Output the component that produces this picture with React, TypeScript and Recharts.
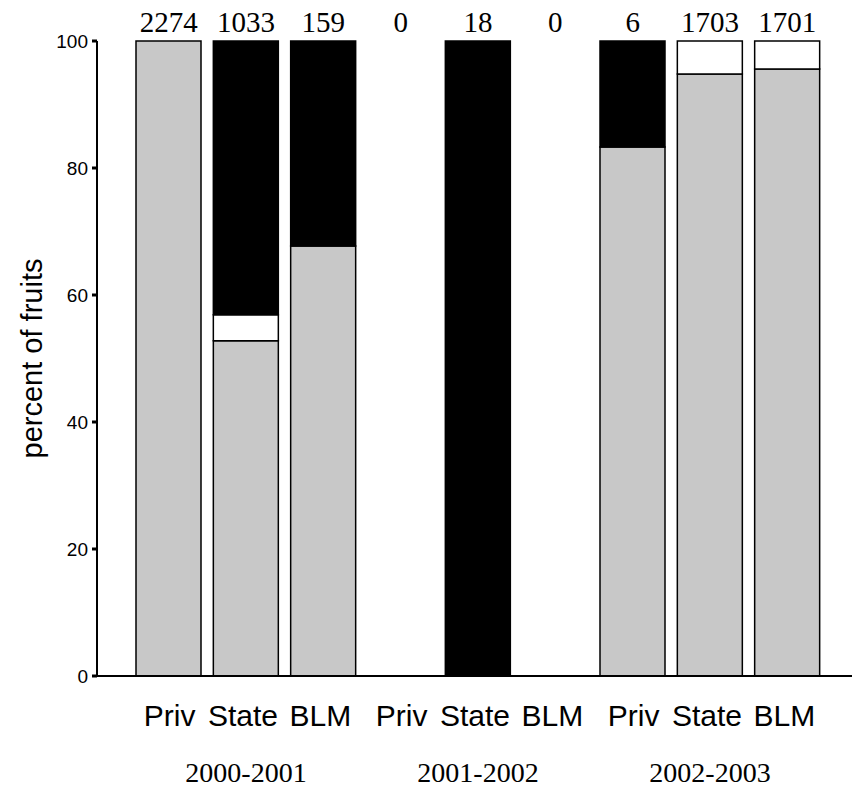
import * as React from "react";
import { BarChart, Bar, XAxis, YAxis } from "recharts";

// categories: three ownership types across three seasons
const sites = ["Priv", "State", "BLM", "Priv", "State", "BLM", "Priv", "State", "BLM"];
const seasons = ["2000-2001", "2001-2002", "2002-2003"];
const counts = [2274, 1033, 159, 0, 18, 0, 6, 1703, 1701];

// percent of fruits per fate (stacked bottom to top); null = no fruits
const grayPct = [100, 52.8, 67.7, null, null, null, 83.3, 94.8, 95.6];
const whitePct = [null, 4.1, null, null, null, null, null, 5.2, 4.4];
const blackPct = [null, 43.1, 32.3, null, 100, null, 16.7, null, null];

const yTicks = [0, 20, 40, 60, 80, 100];

const data = sites.map((site, i) => ({
  key: `${site}-${i}`,
  site,
  count: counts[i],
  gray: grayPct[i],
  white: whitePct[i],
  black: blackPct[i],
}));

const SERIF = "'Liberation Serif', 'Times New Roman', serif";
const SANS = "'Liberation Sans', Arial, sans-serif";

// the site words sit a little tighter than the bar centres
const wordShift = [1, -3, -3];

function CountTick(props: any) {
  const { x, payload } = props;
  return (
    <text x={x} y={32} textAnchor="middle" fontFamily={SERIF} fontSize={29} fill="#000">
      {counts[payload.index]}
    </text>
  );
}

function SiteTick(props: any) {
  const { x, y, payload } = props;
  const i = payload.index;
  return (
    <g>
      <text x={x + wordShift[i % 3]} y={y + 42} textAnchor="middle" fontFamily={SANS} fontSize={30} fill="#000">
        {sites[i]}
      </text>
      {i % 3 === 1 && (
        <text x={x} y={y + 98} textAnchor="middle" fontFamily={SERIF} fontSize={28} fill="#000">
          {seasons[(i - 1) / 3]}
        </text>
      )}
    </g>
  );
}

export default function App(): React.JSX.Element {
  return (
    <div style={{ width: 853, height: 788, background: "#fff" }}>
      <style>{`body{margin:0}`}</style>
      <BarChart
        width={853}
        height={788}
        data={data}
        margin={{ top: 0, right: 1, left: 0, bottom: 0 }}
        barSize={65}
      >
        <XAxis
          xAxisId="top"
          orientation="top"
          dataKey="key"
          height={41}
          axisLine={false}
          tickLine={false}
          interval={0}
          padding={{ left: 33, right: 26 }}
          tick={<CountTick />}
        />
        <XAxis
          xAxisId="bottom"
          dataKey="key"
          height={112}
          interval={0}
          tickLine={false}
          axisLine={{ stroke: "#000", strokeWidth: 2 }}
          padding={{ left: 33, right: 26 }}
          tick={<SiteTick />}
        />
        <YAxis
          domain={[0, 100]}
          ticks={yTicks}
          width={97}
          interval={0}
          axisLine={{ stroke: "#000", strokeWidth: 2 }}
          tickLine={{ stroke: "#000", strokeWidth: 3 }}
          tickSize={5}
          tickMargin={4}
          tick={{ fontSize: 19, fontFamily: SANS, fill: "#000" }}
          label={{
            value: "percent of fruits",
            angle: -90,
            position: "insideLeft",
            offset: 32,
            style: { fontSize: 29, fontFamily: SANS, fill: "#000", textAnchor: "middle" },
          }}
        />
        <Bar dataKey="gray" stackId="a" xAxisId="bottom" fill="#c8c8c8" stroke="#000" strokeWidth={1.5} isAnimationActive={false} />
        <Bar dataKey="white" stackId="a" xAxisId="bottom" fill="#fff" stroke="#000" strokeWidth={1.5} isAnimationActive={false} />
        <Bar dataKey="black" stackId="a" xAxisId="bottom" fill="#000" stroke="#000" strokeWidth={1.5} isAnimationActive={false} />
      </BarChart>
    </div>
  );
}
